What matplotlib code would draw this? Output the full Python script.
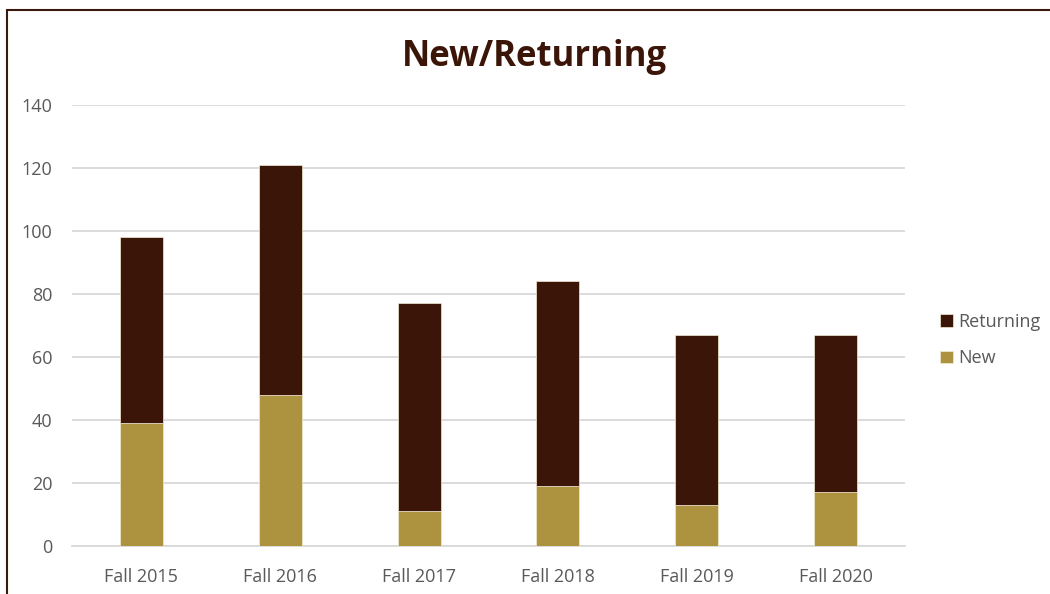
import matplotlib.pyplot as plt
from matplotlib.patches import Rectangle
import numpy as np

plt.rcParams['font.family'] = ['Open Sans', 'DejaVu Sans']

terms = ['Fall 2015', 'Fall 2016', 'Fall 2017', 'Fall 2018', 'Fall 2019', 'Fall 2020']
new = [39, 48, 11, 19, 13, 17]
returning = [59, 73, 66, 65, 54, 50]

C_RET = '#3B1507'
C_NEW = '#AD933F'
GREY = '#595959'

fig = plt.figure(figsize=(10.5, 5.94), dpi=100)
ax = fig.add_axes([72/1050, 1 - 546/594, (905 - 72)/1050, (546 - 105)/594])

x = np.arange(len(terms))
w = 0.31
ax.bar(x, new, w, color=C_NEW, label='New', zorder=3, edgecolor='#F2EBD3', linewidth=0.5)
ax.bar(x, returning, w, bottom=new, color=C_RET, label='Returning', zorder=3,
       edgecolor='#F2EBD3', linewidth=0.5)

ax.set_xlim(-0.5, 5.5)
ax.set_ylim(0, 140)
ax.set_yticks(range(0, 141, 20))
ax.set_xticks(x)
ax.set_xticklabels(terms)
ax.yaxis.grid(True, color='#D9D9D9', linewidth=1.3, zorder=0)
ax.set_axisbelow(True)
for s in ['top', 'right', 'left']:
    ax.spines[s].set_visible(False)
ax.spines['bottom'].set_color('#D9D9D9')
ax.spines['bottom'].set_linewidth(1.3)
ax.tick_params(axis='both', length=0, labelsize=13, labelcolor=GREY)
ax.tick_params(axis='y', pad=14)
ax.tick_params(axis='x', pad=16)

fig.text(534/1050, 1 - 57/594, 'New/Returning', ha='center', va='center',
         fontsize=25, fontweight='bold', color=C_RET)

h, l = ax.get_legend_handles_labels()
leg = fig.legend(h[::-1], l[::-1], loc='center left', bbox_to_anchor=(924/1050, 1 - 340/594),
                 frameon=False, fontsize=13, handlelength=0.7, handleheight=0.7,
                 labelspacing=1.05, handletextpad=0.3)
for t in leg.get_texts():
    t.set_color(GREY)

fig.patches.append(Rectangle((7/1050, -0.1), 1.2, 1 - 10/594 + 0.1, transform=fig.transFigure,
                             fill=False, edgecolor='#3B1A0E', linewidth=1.5))

fig.savefig('out.png', dpi=100)
